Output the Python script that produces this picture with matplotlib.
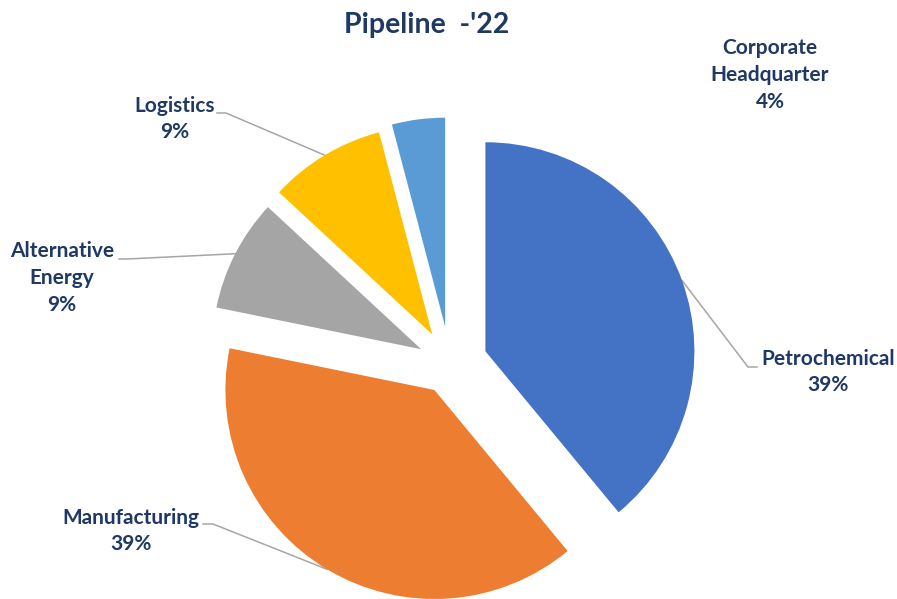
import numpy as np
import matplotlib.pyplot as plt

# data
sectores = ['Petrochemical', 'Manufacturing', 'Alternative\nEnergy', 'Logistics', 'Corporate\nHeadquarter']
valores = [39.0, 39.2, 8.7, 9.0, 4.1]
cores = ['#4472C4', '#ED7D31', '#A5A5A5', '#FFC000', '#5B9BD5']
explosao = [0.18, 0.145, 0.155, 0.165, 0.18]

cor_texto = '#1F3864'
cor_linha = '#A6A6A6'
fonte = ['Lato', 'DejaVu Sans']

# pixel -> data (pie centre at px (450,364), radius 209 px)
cx, cy, esc = 450, 364, 209
def px(x, y):
    return ((x - cx) / esc, (cy - y) / esc)

fig = plt.figure(figsize=(8.97, 5.99), dpi=100)
ax = fig.add_axes([0, 0, 1, 1])

fatias, _ = ax.pie(valores, colors=cores, explode=explosao, startangle=90,
                   counterclock=False, radius=1)

ax.set_xlim(px(0, 0)[0], px(897, 0)[0])
ax.set_ylim(px(0, 599)[1], px(0, 0)[1])
ax.set_aspect('equal')
ax.axis('off')

# label positions (px): text centre, elbow, end of horizontal stub
rotulos = [
    ((828, 372), (748, 367), (757, 367)),
    ((131, 531), (213, 524), (203, 524)),
    ((62, 278), (127, 259), (119, 259)),
    ((175, 119), (226, 113), (217, 113)),
    ((770, 75), None, None),
]

total = sum(valores)
for fatia, nome, v, (pos, cotovelo, ponta) in zip(fatias, sectores, valores, rotulos):
    texto = '%s\n%.0f%%' % (nome, v / total * 100)
    tx, ty = px(*pos)
    ax.text(tx, ty, texto, ha='center', va='center', fontsize=15,
            fontweight='bold', color=cor_texto, family=fonte, linespacing=1.42)
    if cotovelo is None:
        continue
    meio = np.deg2rad((fatia.theta1 + fatia.theta2) / 2)
    x0 = fatia.center[0] + fatia.r * np.cos(meio)
    y0 = fatia.center[1] + fatia.r * np.sin(meio)
    ex, ey = px(*cotovelo)
    px2, py2 = px(*ponta)
    ax.plot([x0, ex, px2], [y0, ey, py2], color=cor_linha, lw=1.1, zorder=0)

fig.text(427 / 897, 1 - 25 / 599, "Pipeline  -'22", ha='center', va='center',
         fontsize=20.5, fontweight='bold', color=cor_texto, family=fonte)

plt.savefig('out.png', dpi=100)
